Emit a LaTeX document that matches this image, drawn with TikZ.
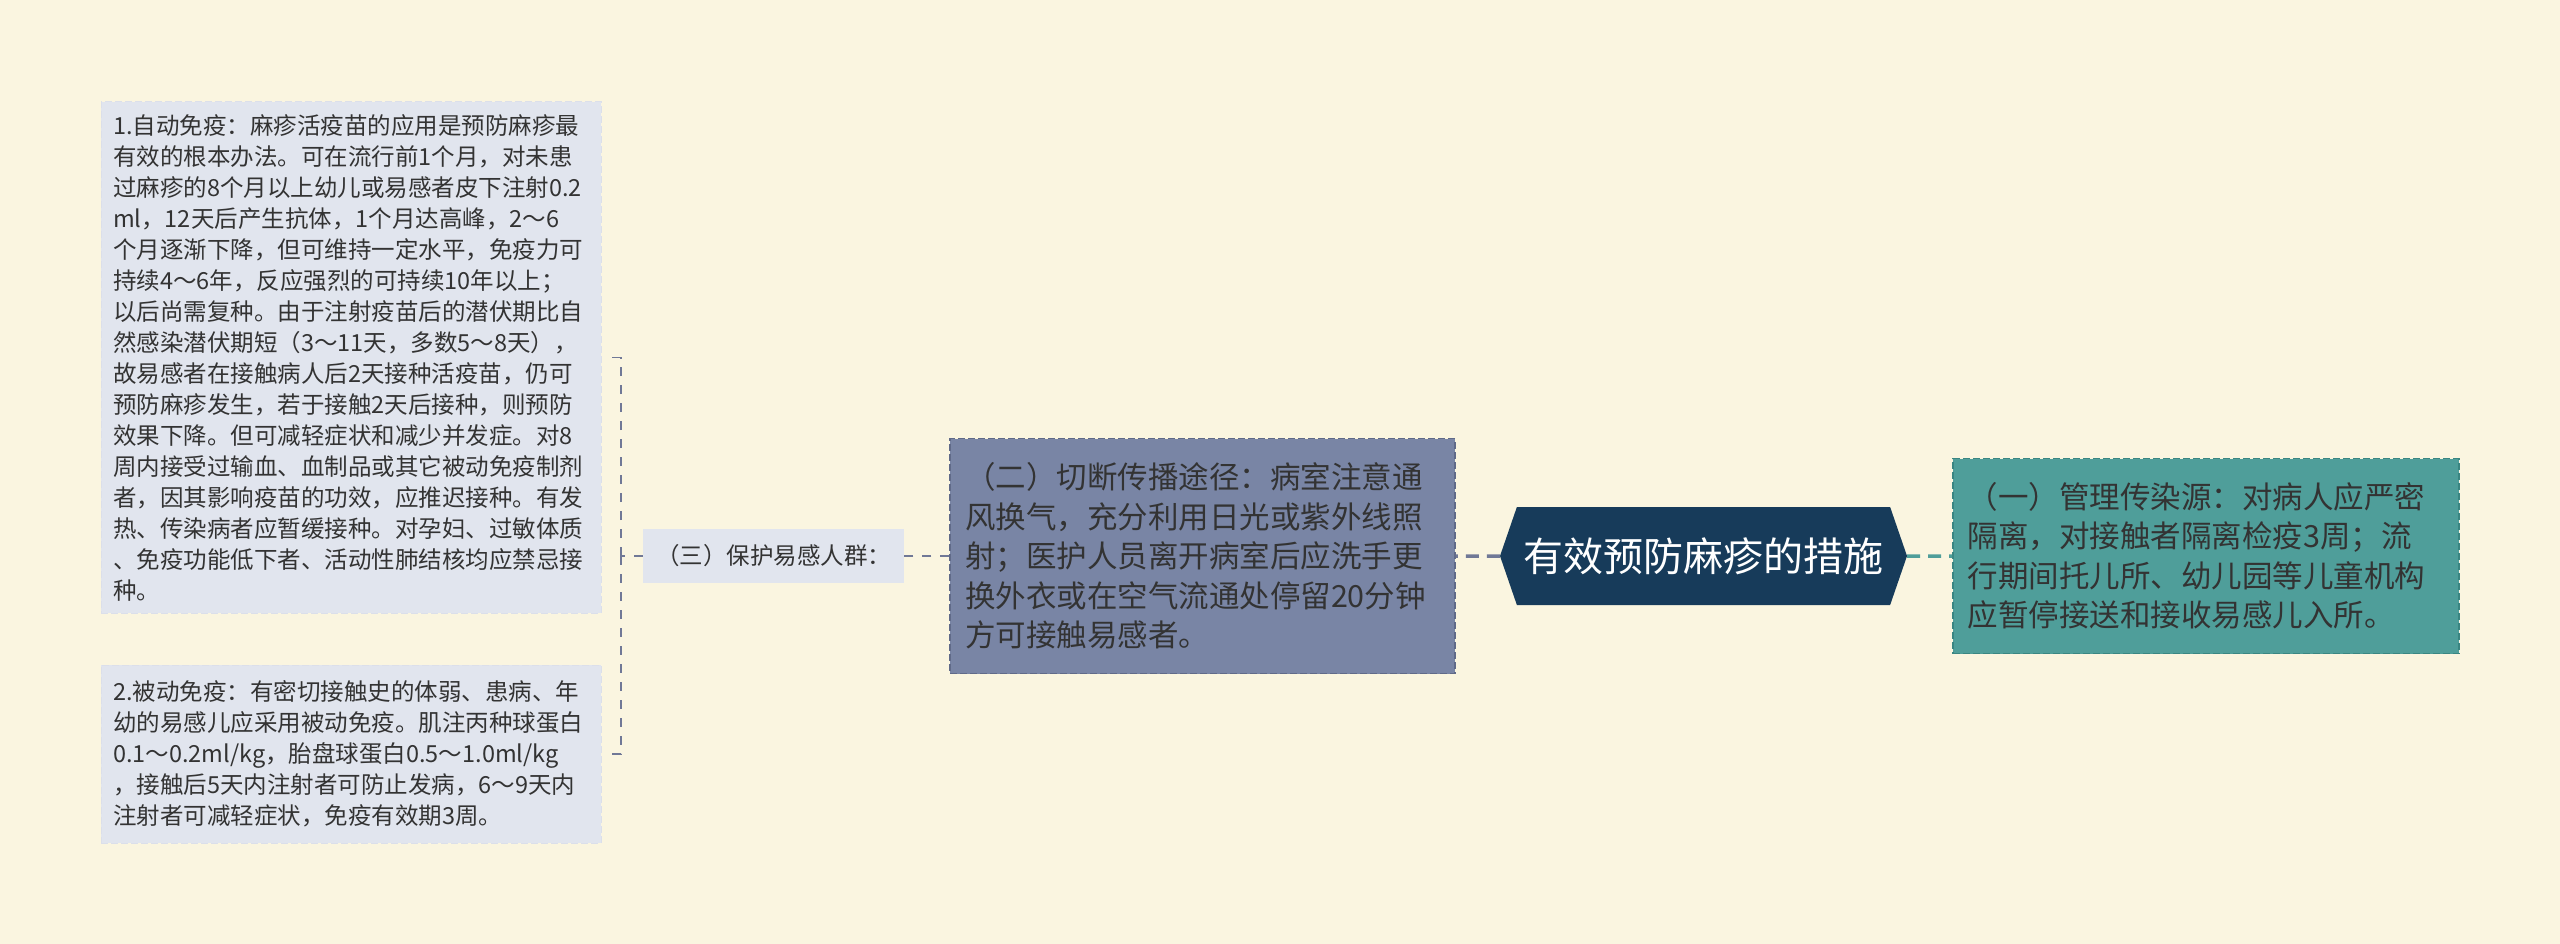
\documentclass[tikz,border=0pt]{standalone}
\usepackage{fontspec}
\setmainfont{Noto Sans CJK SC}
\usetikzlibrary{positioning,shapes.symbols}

\definecolor{bgcream}{RGB}{250,245,224}
\definecolor{leaffill}{RGB}{225,229,238}
\definecolor{leafline}{RGB}{219,223,234}
\definecolor{slatefill}{RGB}{121,133,165}
\definecolor{slateline}{RGB}{96,106,136}
\definecolor{tealfill}{RGB}{79,158,154}
\definecolor{tealline}{RGB}{58,134,130}
\definecolor{rootfill}{RGB}{23,59,90}
\definecolor{linkgray}{RGB}{112,120,150}
\definecolor{textdark}{RGB}{51,51,51}

\begin{document}
\begin{tikzpicture}[
    x=1pt, y=-1pt, node distance=44pt,
    small/.style={font=\fontsize{23.5pt}{31pt}\selectfont, text=textdark},
    big/.style={font=\fontsize{30.5pt}{39.5pt}\selectfont, text=textdark},
    leaf/.style={small, draw=leafline, fill=leaffill, line width=1pt,
      dash pattern=on 7pt off 3pt, align=left, text width=#1,
      inner xsep=12pt, inner ysep=0pt},
    branch/.style={big, line width=1.5pt, dash pattern=on 7pt off 3pt,
      align=left, text width=#1, inner xsep=15pt, inner ysep=0pt},
    link/.style={line width=3.5pt, dash pattern=on 13pt off 8pt},
    twig/.style={draw=linkgray, line width=#1, dash pattern=on 9pt off 9pt}]

  \fill[bgcream] (0,0) rectangle (2560,944);

  \node[signal, signal to=west and east, signal pointer angle=142,
    fill=rootfill, text=white, font=\fontsize{40pt}{44pt}\selectfont,
    minimum height=98pt, minimum width=407pt, inner sep=0pt] (root) at (1703.5,556)
    {有效预防麻疹的措施};

  \node[branch=476pt, draw=tealline, fill=tealfill, minimum height=195pt,
    right=45pt of root] (br-one)
    {（一）管理传染源：对病人应严密\\隔离，对接触者隔离检疫3周；流\\
     行期间托儿所、幼儿园等儿童机构\\应暂停接送和接收易感儿入所。};

  \node[branch=475pt, draw=slateline, fill=slatefill, minimum height=235pt,
    left=of root] (br-two)
    {（二）切断传播途径：病室注意通\\风换气，充分利用日光或紫外线照\\
     射；医护人员离开病室后应洗手更\\换外衣或在空气流通处停留20分钟\\
     方可接触易感者。};

  \node[small, fill=leaffill, minimum width=261pt, minimum height=54pt,
    inner sep=0pt, left=45pt of br-two] (br-three) {（三）保护易感人群：};

  \node[leaf=476pt, minimum height=511pt] (leaf-1) at (351,357.5)
    {1.自动免疫：麻疹活疫苗的应用是预防麻疹最\\
     有效的根本办法。可在流行前1个月，对未患\\
     过麻疹的8个月以上幼儿或易感者皮下注射0.2\\
     ml，12天后产生抗体，1个月达高峰，2～6\\
     个月逐渐下降，但可维持一定水平，免疫力可\\
     持续4～6年，反应强烈的可持续10年以上；\\
     以后尚需复种。由于注射疫苗后的潜伏期比自\\
     然感染潜伏期短（3～11天，多数5～8天），\\
     故易感者在接触病人后2天接种活疫苗，仍可\\
     预防麻疹发生，若于接触2天后接种，则预防\\
     效果下降。但可减轻症状和减少并发症。对8\\
     周内接受过输血、血制品或其它被动免疫制剂\\
     者，因其影响疫苗的功效，应推迟接种。有发\\
     热、传染病者应暂缓接种。对孕妇、过敏体质\\
     、免疫功能低下者、活动性肺结核均应禁忌接\\
     种。};

  \node[leaf=476pt, minimum height=178pt] (leaf-2) at (351,754)
    {2.被动免疫：有密切接触史的体弱、患病、年\\
     幼的易感儿应采用被动免疫。肌注丙种球蛋白\\
     0.1～0.2ml/kg，胎盘球蛋白0.5～1.0ml/kg\\
     ，接触后5天内注射者可防止发病，6～9天内\\
     注射者可减轻症状，免疫有效期3周。};

  % connectors
  \draw[link, draw=linkgray] (root) -- (br-two);
  \draw[link, draw=tealfill] (root) -- (br-one);
  \draw[twig=2.5pt] (br-two) -- (br-three);
  \draw[twig=1.5pt] (br-three.west) -- ++(-22,0) coordinate (fork);
  \foreach \n in {leaf-1,leaf-2}
  \draw[twig=1.5pt, shorten >=6pt] (fork) |- (\n);
\end{tikzpicture}
\end{document}
